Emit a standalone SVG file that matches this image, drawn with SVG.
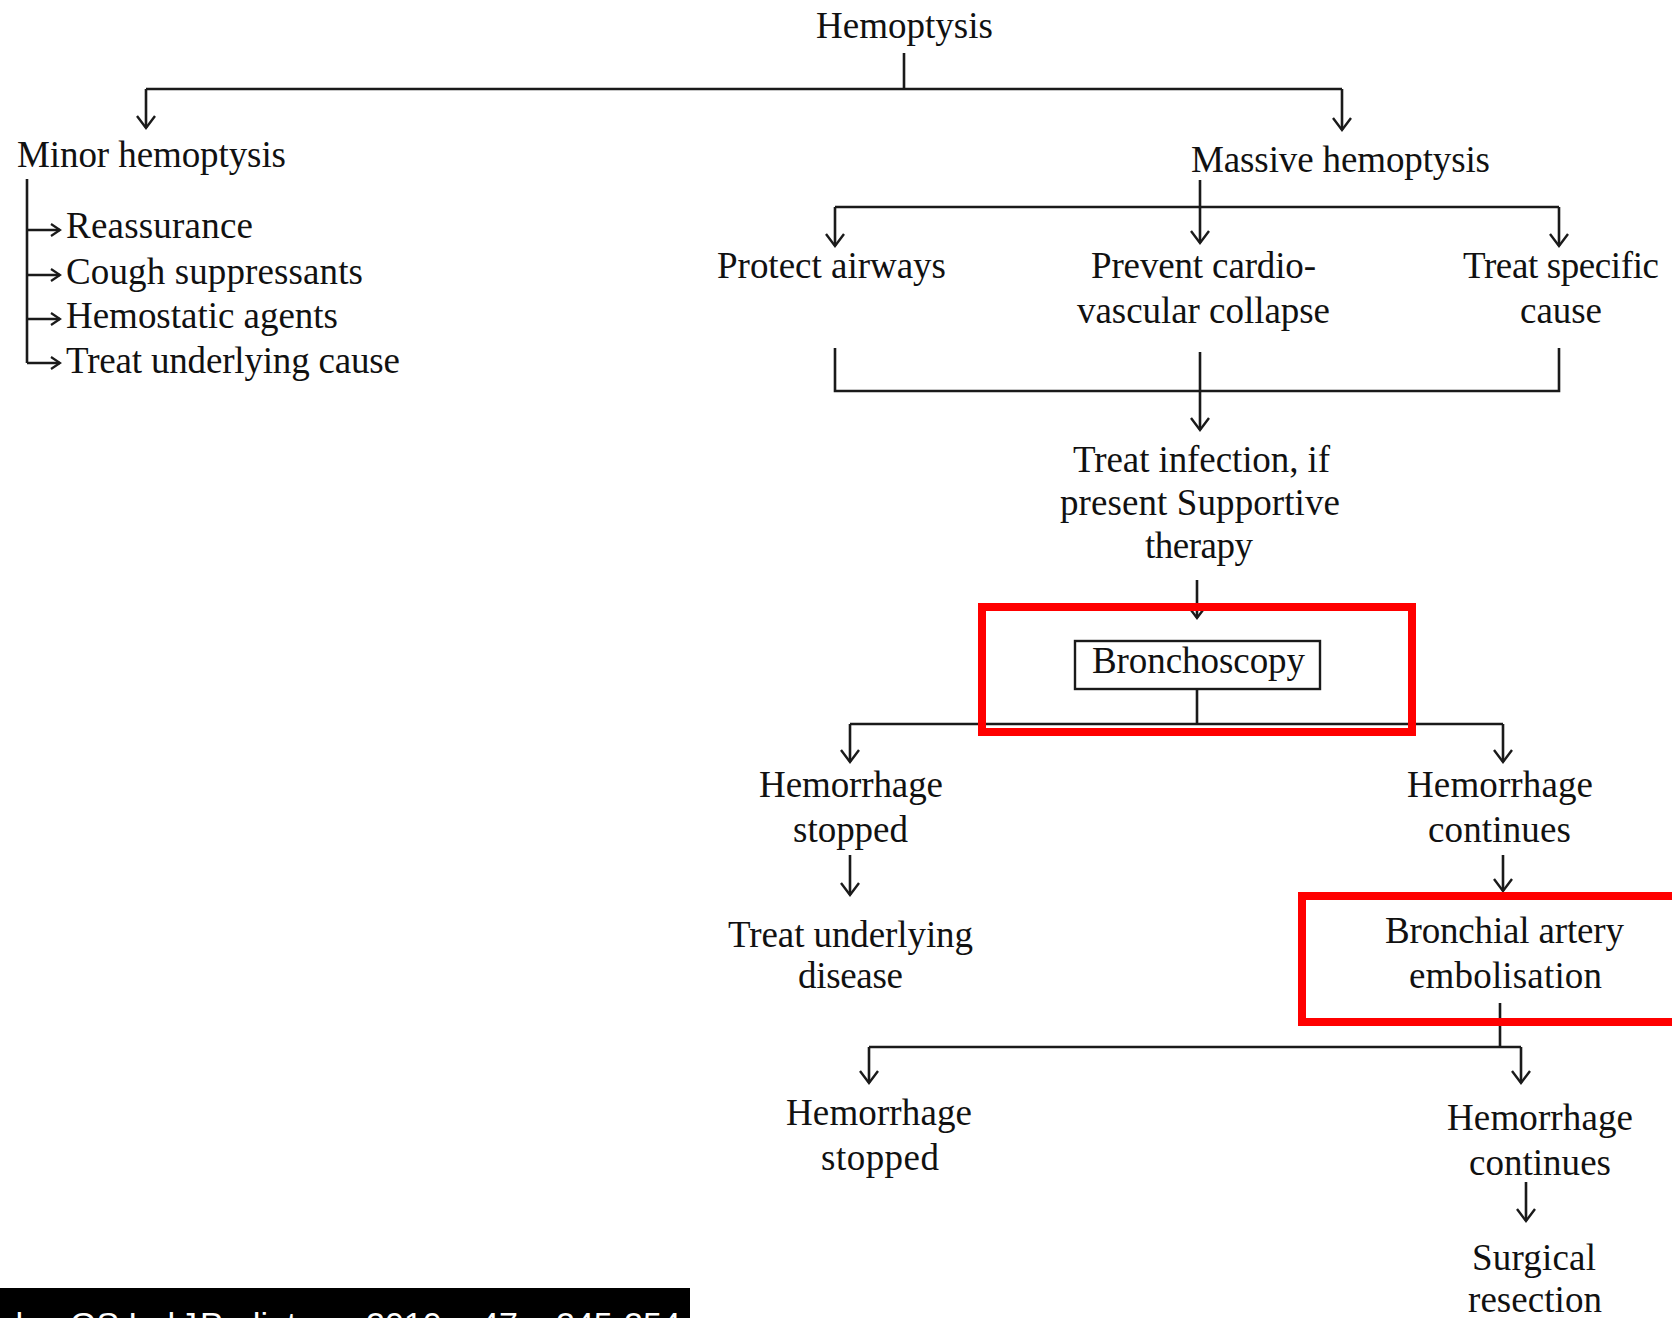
<svg xmlns="http://www.w3.org/2000/svg" width="1672" height="1318" viewBox="0 0 1672 1318">
<style>
.t{font-family:"Liberation Serif","Times New Roman",serif;font-size:37px;fill:#111}
.ln{fill:none;stroke:#1a1a1a;stroke-width:2.6}
.ar{fill:none;stroke:#1a1a1a;stroke-width:2.6;marker-end:url(#ah)}
.ars{fill:none;stroke:#1a1a1a;stroke-width:2.4;marker-end:url(#ahs)}
.red{fill:none;stroke:#ff0000;stroke-width:8}
.cap{font-family:"Liberation Sans",Arial,sans-serif;font-size:34px;fill:#ffffff}
</style>
<defs>
<marker id="ah" viewBox="-16 -12 18 24" markerWidth="18" markerHeight="24" refX="0" refY="0" orient="auto" markerUnits="userSpaceOnUse" overflow="visible">
<path d="M-12,-9 L0,0 L-12,9" fill="none" stroke="#1a1a1a" stroke-width="2.4"/>
</marker>
<marker id="ahs" viewBox="-16 -12 18 24" markerWidth="18" markerHeight="24" refX="0" refY="0" orient="auto" markerUnits="userSpaceOnUse" overflow="visible">
<path d="M-9,-6 L0,0 L-9,6" fill="none" stroke="#1a1a1a" stroke-width="2.2"/>
</marker>
</defs>
<rect width="1672" height="1318" fill="#ffffff"/>

<g id="connectors">
<path class="ln" d="M904,53 V89"/>
<path class="ln" d="M146,89 H1342"/>
<path class="ar" d="M146,89 V128"/>
<path class="ar" d="M1342,89 V130"/>
<path class="ln" d="M27,179 V363"/>
<path class="ars" d="M27,230 H60"/>
<path class="ars" d="M27,275 H60"/>
<path class="ars" d="M27,319 H60"/>
<path class="ars" d="M27,363 H60"/>
<path class="ar" d="M1200,180 V243"/>
<path class="ln" d="M835,207 H1559"/>
<path class="ar" d="M835,207 V246"/>
<path class="ar" d="M1559,207 V246"/>
<path class="ln" d="M835,348 V391 H1559 V348"/>
<path class="ar" d="M1200,352 V430"/>
<path class="ar" d="M1197,580 V618"/>
<path class="ln" d="M1197,689 V724"/>
<path class="ln" d="M850,724 H1503"/>
<path class="ar" d="M850,724 V762"/>
<path class="ar" d="M1503,724 V762"/>
<path class="ar" d="M850,855 V895"/>
<path class="ar" d="M1503,855 V891"/>
<path class="ln" d="M1500,1003 V1047"/>
<path class="ln" d="M869,1047 H1521"/>
<path class="ar" d="M869,1047 V1083"/>
<path class="ar" d="M1521,1047 V1083"/>
<path class="ar" d="M1526,1182 V1221"/>
</g>

<g id="n-hemoptysis"><text class="t" x="816" y="38" textLength="177">Hemoptysis</text></g>
<g id="n-minor"><text class="t" x="17" y="167" textLength="269">Minor hemoptysis</text></g>
<g id="n-reassurance"><text class="t" x="66" y="238" textLength="187">Reassurance</text></g>
<g id="n-cough"><text class="t" x="66" y="284" textLength="297">Cough suppressants</text></g>
<g id="n-hemostatic"><text class="t" x="66" y="328" textLength="272">Hemostatic agents</text></g>
<g id="n-treat-cause"><text class="t" x="66" y="373" textLength="334">Treat underlying cause</text></g>
<g id="n-massive"><text class="t" x="1191" y="172" textLength="299">Massive hemoptysis</text></g>
<g id="n-protect"><text class="t" x="717" y="278" textLength="229">Protect airways</text></g>
<g id="n-prevent"><text class="t" x="1091" y="278" textLength="225">Prevent cardio-</text><text class="t" x="1077" y="323" textLength="253">vascular collapse</text></g>
<g id="n-specific"><text class="t" x="1463" y="278" textLength="196">Treat specific</text><text class="t" x="1520" y="323" textLength="82">cause</text></g>
<g id="n-infection"><text class="t" x="1073" y="472" textLength="257">Treat infection, if</text><text class="t" x="1060" y="515" textLength="280">present Supportive</text><text class="t" x="1145" y="558" textLength="108">therapy</text></g>
<g id="n-bronchoscopy">
<rect x="1075" y="641" width="245" height="48" fill="none" stroke="#1a1a1a" stroke-width="2.4"/>
<text class="t" x="1092" y="673" textLength="213">Bronchoscopy</text>
<rect class="red" x="982" y="607" width="430" height="125"/>
</g>
<g id="n-stopped1"><text class="t" x="759" y="797" textLength="184">Hemorrhage</text><text class="t" x="793" y="842" textLength="115">stopped</text></g>
<g id="n-continues1"><text class="t" x="1407" y="797" textLength="186">Hemorrhage</text><text class="t" x="1428" y="842" textLength="143">continues</text></g>
<g id="n-treat-disease"><text class="t" x="728" y="947" textLength="245">Treat underlying</text><text class="t" x="798" y="988" textLength="105">disease</text></g>
<g id="n-bae">
<text class="t" x="1385" y="943" textLength="239">Bronchial artery</text><text class="t" x="1409" y="988" textLength="193">embolisation</text>
<rect class="red" x="1302" y="896" width="400" height="126"/>
</g>
<g id="n-stopped2"><text class="t" x="786" y="1125" textLength="186">Hemorrhage</text><text class="t" x="821" y="1170" textLength="118">stopped</text></g>
<g id="n-continues2"><text class="t" x="1447" y="1130" textLength="186">Hemorrhage</text><text class="t" x="1469" y="1175" textLength="142">continues</text></g>
<g id="n-surgical"><text class="t" x="1472" y="1270" textLength="124">Surgical</text><text class="t" x="1468" y="1312" textLength="134">resection</text></g>

<g id="caption">
<rect x="0" y="1288" width="690" height="30" fill="#000000"/>
<text class="cap" x="42" y="1336" text-anchor="end">Gaude</text>
<text class="cap" x="70" y="1336">GS.</text>
<text class="cap" x="128" y="1336">Ind</text>
<text class="cap" x="180" y="1336">J</text>
<text class="cap" x="200" y="1336">Pediatr.</text>
<text class="cap" x="366" y="1336">2010;</text>
<text class="cap" x="480" y="1336">47:</text>
<text class="cap" x="556" y="1336">245-254</text>
</g>
</svg>
